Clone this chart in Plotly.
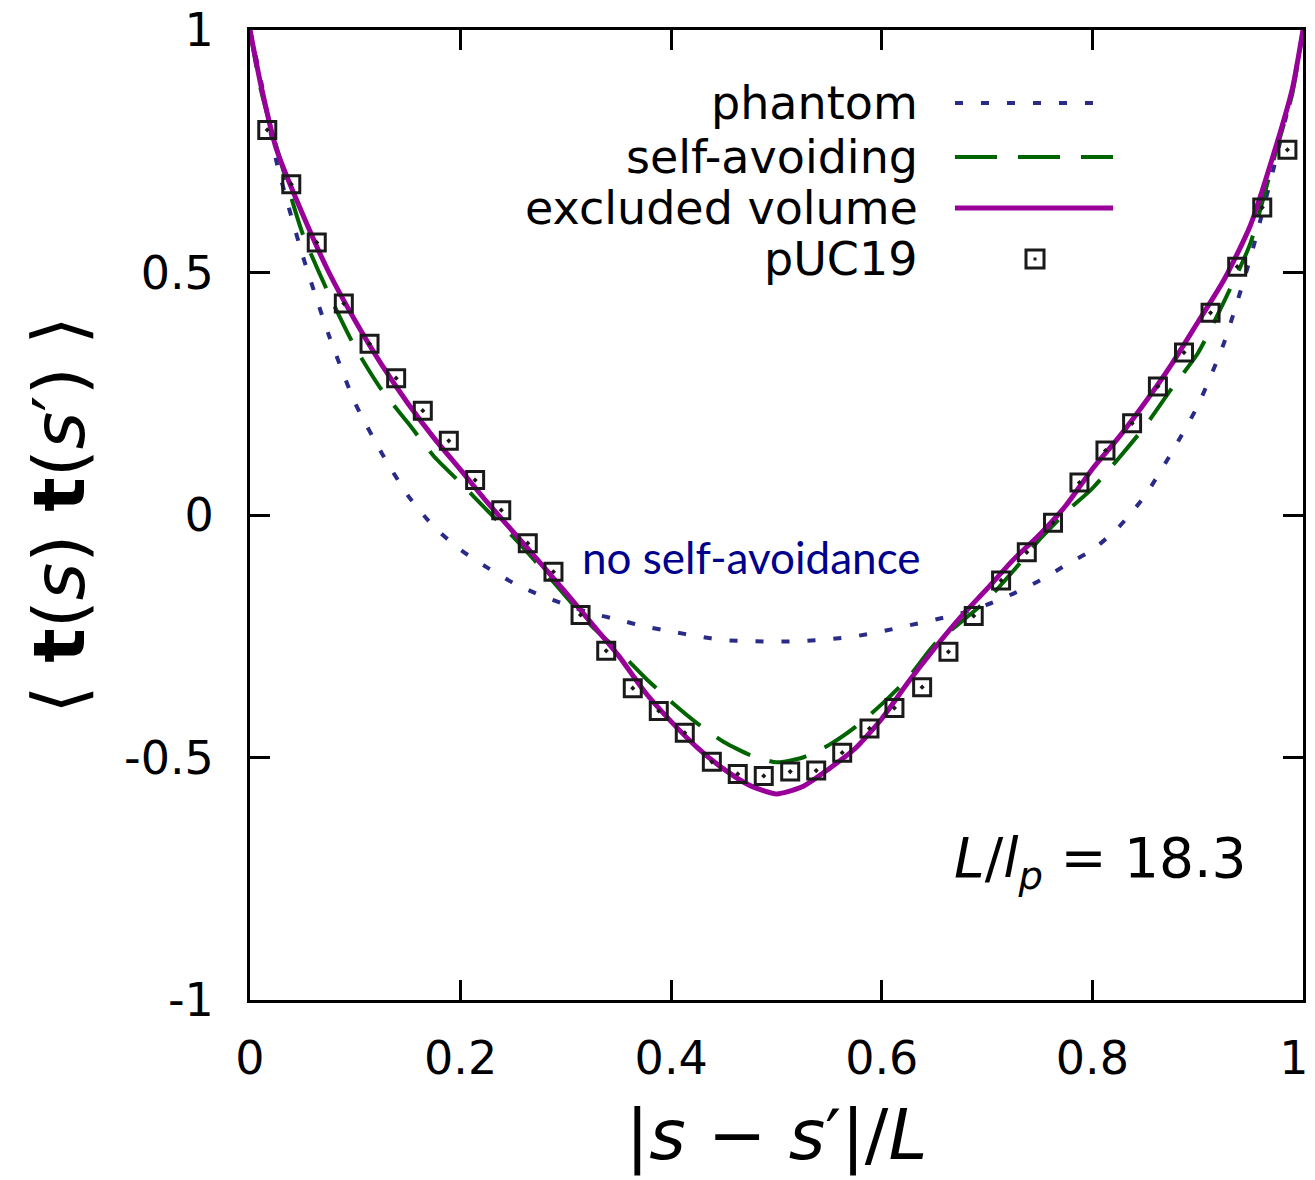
import plotly.graph_objects as go

# ---------------- data ----------------
x_curve = [0.0, 0.01, 0.025, 0.05, 0.075, 0.1, 0.125, 0.15, 0.175, 0.2, 0.225, 0.25,
           0.275, 0.3, 0.325, 0.35, 0.375, 0.4, 0.425, 0.45, 0.475, 0.5, 0.525, 0.55,
           0.575, 0.6, 0.625, 0.65, 0.675, 0.7, 0.725, 0.75, 0.775, 0.8, 0.825, 0.85,
           0.875, 0.9, 0.925, 0.95, 0.975, 0.99, 1.0]

phantom = [1.0, 0.90, 0.73, 0.535, 0.37, 0.23, 0.128, 0.04, -0.025, -0.072, -0.108, -0.14,
           -0.165, -0.185, -0.203, -0.216, -0.23, -0.24, -0.25, -0.258, -0.26, -0.261, -0.26, -0.256,
           -0.25, -0.24, -0.228, -0.216, -0.203, -0.185, -0.162, -0.135, -0.103, -0.072, -0.025, 0.04,
           0.128, 0.225, 0.355, 0.53, 0.74, 0.88, 1.0]

self_avoiding = [1.0, 0.88, 0.76, 0.58, 0.455, 0.345, 0.258, 0.19, 0.12, 0.066, 0.01, -0.045,
                 -0.105, -0.168, -0.23, -0.28, -0.335, -0.385, -0.43, -0.468, -0.495, -0.51, -0.5, -0.474,
                 -0.437, -0.39, -0.336, -0.267, -0.221, -0.175, -0.115, -0.05, 0.006, 0.055, 0.117, 0.183,
                 0.26, 0.333, 0.44, 0.56, 0.755, 0.87, 1.0]

excluded_volume = [1.0, 0.89, 0.755, 0.62, 0.50, 0.40, 0.31, 0.23, 0.158, 0.093, 0.027, -0.035,
                   -0.097, -0.16, -0.225, -0.29, -0.365, -0.426, -0.48, -0.524, -0.558, -0.575, -0.56, -0.523,
                   -0.481, -0.42, -0.345, -0.275, -0.21, -0.152, -0.092, -0.04, 0.02, 0.095, 0.16, 0.232,
                   0.31, 0.397, 0.485, 0.597, 0.765, 0.88, 1.0]

x_puc19 = [0.0164, 0.0392, 0.0634, 0.0891, 0.1135, 0.1388, 0.1641, 0.1888, 0.2138, 0.2386,
           0.2638, 0.2882, 0.3139, 0.3383, 0.3635, 0.3882, 0.4129, 0.4386, 0.4632, 0.4879,
           0.5130, 0.5377, 0.5624, 0.5883, 0.6120, 0.6383, 0.6633, 0.6873, 0.7133, 0.7377,
           0.7626, 0.7877, 0.8124, 0.8377, 0.8622, 0.8870, 0.9122, 0.9375, 0.9613, 0.9852]
y_puc19 = [0.794, 0.682, 0.562, 0.436, 0.353, 0.282, 0.215, 0.153, 0.072, 0.010,
           -0.058, -0.117, -0.206, -0.280, -0.357, -0.404, -0.449, -0.509, -0.534, -0.538,
           -0.529, -0.527, -0.490, -0.440, -0.398, -0.355, -0.282, -0.208, -0.135, -0.077,
           -0.016, 0.067, 0.133, 0.189, 0.265, 0.335, 0.417, 0.512, 0.634, 0.753]

x_ticks = [0, 0.2, 0.4, 0.6, 0.8, 1]
x_ticktext = ["0", "0.2", "0.4", "0.6", "0.8", "1\u2009\u2009"]
y_ticks = [-1, -0.5, 0, 0.5, 1]
y_ticktext = ["-1", "-0.5", "0", "0.5", "1"]

legend_labels = ["phantom", "self-avoiding", "excluded volume", "pUC19"]

# ---------------- styles ----------------
C_PHANTOM = "#2a2a88"
C_SELF = "#006400"
C_EXCL = "#990099"
C_MARK = "#1a1a1a"
FONT = "DejaVu Sans"

fig = go.Figure()
fig.add_trace(go.Scatter(x=x_curve, y=phantom, mode="lines", name=legend_labels[0],
                         line=dict(color=C_PHANTOM, width=4, dash="8px,18px", shape="spline", smoothing=0.6)))
fig.add_trace(go.Scatter(x=x_curve, y=self_avoiding, mode="lines", name=legend_labels[1],
                         line=dict(color=C_SELF, width=4, dash="38px,20px", shape="spline", smoothing=0.6)))
fig.add_trace(go.Scatter(x=x_curve, y=excluded_volume, mode="lines", name=legend_labels[2],
                         line=dict(color=C_EXCL, width=5, shape="spline", smoothing=0.6)))
fig.add_trace(go.Scatter(x=x_puc19, y=y_puc19, mode="markers", name=legend_labels[3],
                         marker=dict(symbol="square-open-dot", size=17, color=C_MARK,
                                     line=dict(width=3, color=C_MARK))))

axis_common = dict(ticks="inside", ticklen=20, tickwidth=2.5, tickcolor="black",
                   showline=True, linewidth=3, linecolor="black", mirror="allticks",
                   showgrid=False, zeroline=False, automargin=False,
                   ticklabeloverflow="allow",
                   tickfont=dict(family=FONT, size=46, color="black"))

fig.update_xaxes(range=[0, 1], tickvals=x_ticks, ticktext=x_ticktext, ticklabelstandoff=16,
                 title=dict(text="|<i>s</i> − <i>s</i>′|/<i>L</i>",
                            font=dict(family=FONT, size=70, color="black"), standoff=26),
                 **axis_common)
fig.update_yaxes(range=[-1, 1], tickvals=y_ticks, ticktext=y_ticktext, ticklabelstandoff=24,
                 title=dict(text="⟨ <b>t</b>(<i>s</i>) <b>t</b>(<i>s</i>′) ⟩",
                            font=dict(family=FONT, size=72, color="black"), standoff=16),
                 **axis_common)

# ---------------- manual gnuplot-style key ----------------
key_text_x = 0.6363
key_rows = [0.9247, 0.8691, 0.8165, 0.7639]
for lab, yr in zip(legend_labels, key_rows):
    fig.add_annotation(xref="paper", yref="paper", x=key_text_x, y=yr, text=lab,
                       showarrow=False, xanchor="right", yanchor="middle",
                       font=dict(family=FONT, size=46, color="black"))
fig.add_shape(type="line", xref="paper", yref="paper", x0=0.6695, x1=0.8100,
              y0=key_rows[0], y1=key_rows[0], line=dict(color=C_PHANTOM, width=4, dash="8px,18px"))
fig.add_shape(type="line", xref="paper", yref="paper", x0=0.6695, x1=0.8196,
              y0=key_rows[1], y1=key_rows[1], line=dict(color=C_SELF, width=4, dash="42px,21px"))
fig.add_shape(type="line", xref="paper", yref="paper", x0=0.6695, x1=0.8196,
              y0=key_rows[2], y1=key_rows[2], line=dict(color=C_EXCL, width=5))
fig.add_shape(type="rect", xref="paper", yref="paper", xsizemode="pixel", ysizemode="pixel",
              xanchor=0.7455, yanchor=key_rows[3], x0=-9, x1=9, y0=-9, y1=9,
              line=dict(color=C_MARK, width=3), fillcolor="rgba(0,0,0,0)")
fig.add_shape(type="rect", xref="paper", yref="paper", xsizemode="pixel", ysizemode="pixel",
              xanchor=0.7455, yanchor=key_rows[3], x0=-1.5, x1=1.5, y0=-1.5, y1=1.5,
              line=dict(width=0), fillcolor=C_MARK)

# ---------------- annotations ----------------
fig.add_annotation(x=0.4758, y=-0.087, text="no self-avoidance", showarrow=False,
                   font=dict(family="Lato", size=44, color="#00008c"))
fig.add_annotation(x=0.807, y=-0.715,
                   text="<i>L</i>/<i>l</i><sub><i>p</i></sub> = 18.3", showarrow=False,
                   font=dict(family=FONT, size=55, color="black"))

fig.update_layout(width=1315, height=1180, margin=dict(l=250, r=12, t=30, b=180),
                  plot_bgcolor="white", paper_bgcolor="white", showlegend=False)

fig.write_html("out.html")
